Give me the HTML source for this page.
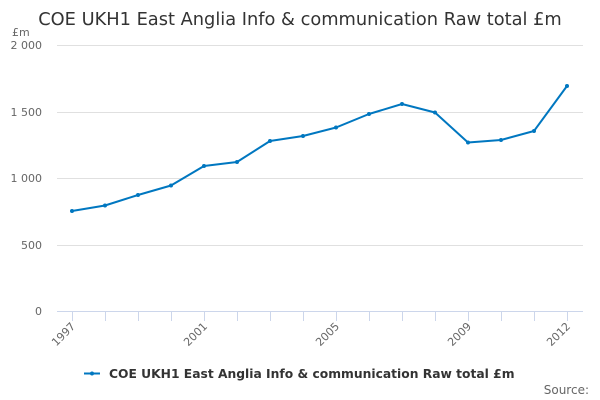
<!DOCTYPE html>
<html><head><meta charset="utf-8"><style>
html,body{margin:0;padding:0;background:#fff;}
svg{display:block;font-family:"DejaVu Sans","Liberation Sans",sans-serif;}
</style></head><body>
<svg width="600" height="400" viewBox="0 0 600 400">
<text x="300" y="25" text-anchor="middle" font-size="17.8" fill="#333">COE UKH1 East Anglia Info &amp; communication Raw total £m</text>
<text x="12" y="36" font-size="11" fill="#666">£m</text>
<g stroke="#e0e0e0" stroke-width="1">
<line x1="57" x2="583" y1="45.5" y2="45.5"/>
<line x1="57" x2="583" y1="112.5" y2="112.5"/>
<line x1="57" x2="583" y1="178.5" y2="178.5"/>
<line x1="57" x2="583" y1="245.5" y2="245.5"/>
</g>
<g font-size="11" fill="#666" text-anchor="end">
<text x="42" y="49">2 000</text>
<text x="42" y="116">1 500</text>
<text x="42" y="182">1 000</text>
<text x="42" y="249">500</text>
<text x="42" y="315">0</text>
</g>
<line x1="57" x2="583" y1="311.5" y2="311.5" stroke="#ccd6eb"/>
<g stroke="#ccd6eb">
<line x1="72.5" x2="72.5" y1="311" y2="321"/><line x1="105.5" x2="105.5" y1="311" y2="321"/>
<line x1="138.5" x2="138.5" y1="311" y2="321"/><line x1="171.5" x2="171.5" y1="311" y2="321"/>
<line x1="204.5" x2="204.5" y1="311" y2="321"/><line x1="237.5" x2="237.5" y1="311" y2="321"/>
<line x1="270.5" x2="270.5" y1="311" y2="321"/><line x1="303.5" x2="303.5" y1="311" y2="321"/>
<line x1="336.5" x2="336.5" y1="311" y2="321"/><line x1="369.5" x2="369.5" y1="311" y2="321"/>
<line x1="402.5" x2="402.5" y1="311" y2="321"/><line x1="435.5" x2="435.5" y1="311" y2="321"/>
<line x1="468.5" x2="468.5" y1="311" y2="321"/><line x1="501.5" x2="501.5" y1="311" y2="321"/>
<line x1="534.5" x2="534.5" y1="311" y2="321"/><line x1="567.5" x2="567.5" y1="311" y2="321"/>
</g>
<g font-size="11" fill="#666" text-anchor="end">
<text transform="translate(76,327) rotate(-45)">1997</text>
<text transform="translate(208,327) rotate(-45)">2001</text>
<text transform="translate(340,327) rotate(-45)">2005</text>
<text transform="translate(472,327) rotate(-45)">2009</text>
<text transform="translate(571,327) rotate(-45)">2012</text>
</g>
<polyline fill="none" stroke="#0077c0" stroke-width="2" stroke-linejoin="round"
points="72,211 105,205.5 138,195 171,185.5 204,166 237,162 270,141 303,136 336,127.5 369,114 402,104 435,112.5 468,142.5 501,140 534,131 567,86"/>
<g fill="#0077c0">
<circle cx="72" cy="211" r="2"/><circle cx="105" cy="205.5" r="2"/><circle cx="138" cy="195" r="2"/><circle cx="171" cy="185.5" r="2"/>
<circle cx="204" cy="166" r="2"/><circle cx="237" cy="162" r="2"/><circle cx="270" cy="141" r="2"/><circle cx="303" cy="136" r="2"/>
<circle cx="336" cy="127.5" r="2"/><circle cx="369" cy="114" r="2"/><circle cx="402" cy="104" r="2"/><circle cx="435" cy="112.5" r="2"/>
<circle cx="468" cy="142.5" r="2"/><circle cx="501" cy="140" r="2"/><circle cx="534" cy="131" r="2"/><circle cx="567" cy="86" r="2"/>
</g>
<line x1="84" x2="100" y1="373.5" y2="373.5" stroke="#0077c0" stroke-width="2"/>
<circle cx="92" cy="373.5" r="2" fill="#0077c0"/>
<text x="109" y="378" font-size="12.3" font-weight="bold" fill="#333">COE UKH1 East Anglia Info &amp; communication Raw total £m</text>
<text x="589" y="394" font-size="12" fill="#666" text-anchor="end">Source:</text>
</svg>
</body></html>
